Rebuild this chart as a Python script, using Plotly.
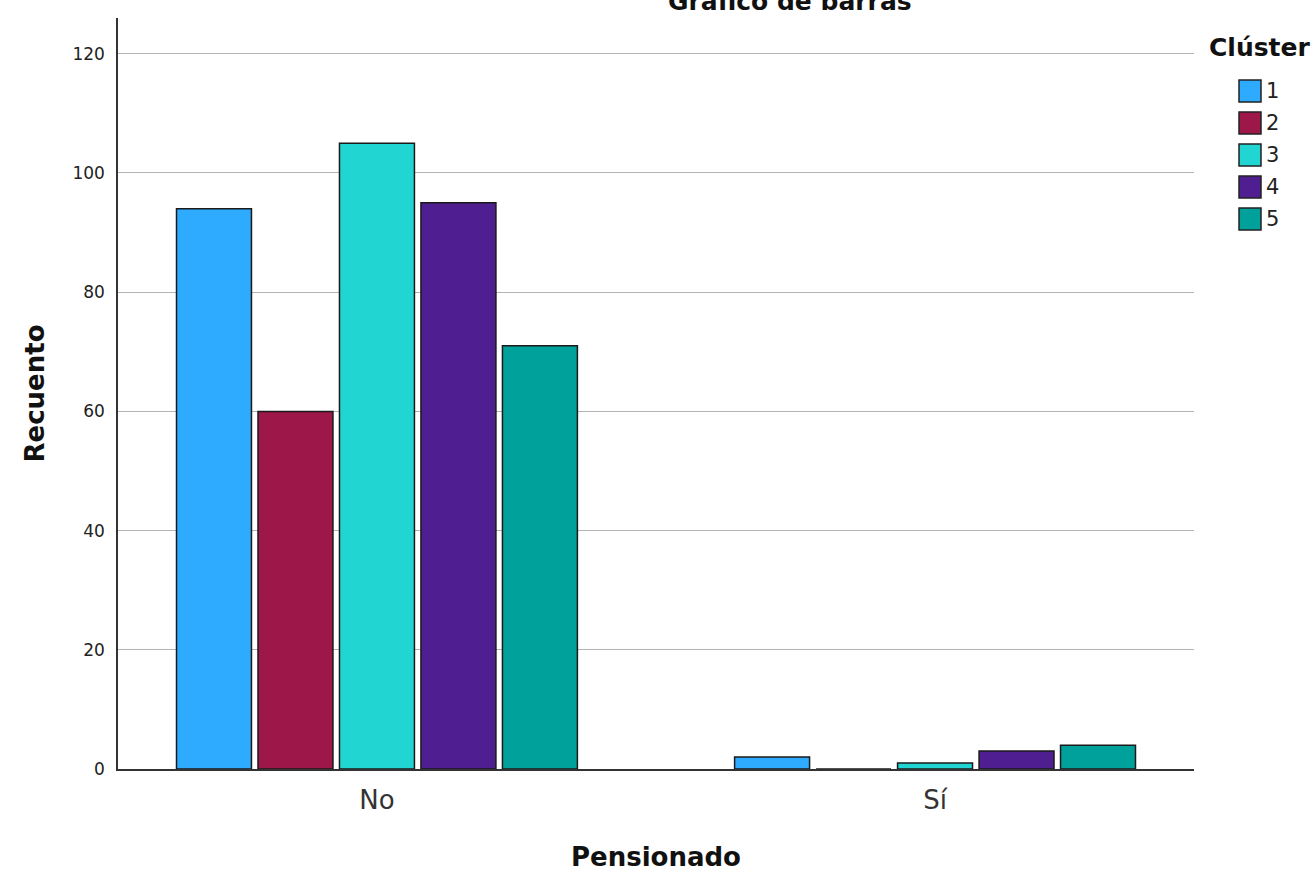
import plotly.graph_objects as go

categories = ["No", "Sí"]
clusters = ["1", "2", "3", "4", "5"]
values_c1 = [94, 2]
values_c2 = [60, 0]
values_c3 = [105, 1]
values_c4 = [95, 3]
values_c5 = [71, 4]
colors = ["#2EABFF", "#9E1749", "#20D5D2", "#4F1E91", "#00A09B"]

series = [values_c1, values_c2, values_c3, values_c4, values_c5]

W, H = 1316, 872
L, R, T, B = 118, 122, 18, 103
PW, PH = W - L - R, H - T - B
FONT = "DejaVu Sans"


def px_x(x):
    return (x - L) / PW


def px_y(y):
    return (H - B - y) / PH


fig = go.Figure()
for name, vals, col in zip(clusters, series, colors):
    fig.add_trace(go.Bar(
        x=categories, y=vals, name=name, showlegend=False,
        marker=dict(color=col, line=dict(color="#1a1a1a", width=1.5)),
    ))

fig.update_layout(
    width=W, height=H,
    margin=dict(l=L, r=R, t=T, b=B, autoexpand=False),
    plot_bgcolor="white", paper_bgcolor="white",
    barmode="group", bargap=0.27, bargroupgap=0.08,
    font=dict(family=FONT, color="#222"),
    xaxis=dict(
        range=[-0.464, 1.464], showline=True, linecolor="#333", linewidth=1.5,
        ticks="", tickfont=dict(size=26, color="#333"), ticklabelstandoff=7,
        automargin=False,
        title=dict(text="<b>Pensionado</b>", font=dict(size=26, color="#111"), standoff=37),
    ),
    yaxis=dict(
        range=[0, 126], dtick=20, showline=True, linecolor="#333", linewidth=1.5,
        showgrid=True, gridcolor="#b4b4b4", gridwidth=1.2, ticks="",
        tickfont=dict(size=17, color="#222"), zeroline=False, ticklabelstandoff=8,
        automargin=False,
        title=dict(text="<b>Recuento</b>", font=dict(size=26, color="#111"), standoff=20),
    ),
)

# chart title (partly cut by the top edge, as in the reference)
fig.add_annotation(
    text="<b>Gráfico de barras</b>", xref="paper", yref="paper",
    x=px_x(790), y=px_y(10), xanchor="center", yanchor="bottom", yshift=-8,
    showarrow=False, font=dict(size=25, color="#111"),
)

# legend
fig.add_annotation(
    text="<b>Clúster</b>", xref="paper", yref="paper",
    x=px_x(1207), y=px_y(47), xanchor="left", yanchor="middle",
    showarrow=False, font=dict(size=25, color="#111"),
)
for i, (name, col) in enumerate(zip(clusters, colors)):
    cy = 91 + i * 32
    fig.add_shape(
        type="rect", xref="paper", yref="paper",
        x0=px_x(1239), x1=px_x(1261), y0=px_y(cy - 11), y1=px_y(cy + 11),
        fillcolor=col, line=dict(color="#222", width=1.5),
    )
    fig.add_annotation(
        text=name, xref="paper", yref="paper",
        x=px_x(1264), y=px_y(cy), xanchor="left", yanchor="middle",
        showarrow=False, font=dict(size=21, color="#222"),
    )

fig.write_html(
    "out.html",
    config={"displayModeBar": False},
    post_script="document.body.style.margin='0px';",
)
